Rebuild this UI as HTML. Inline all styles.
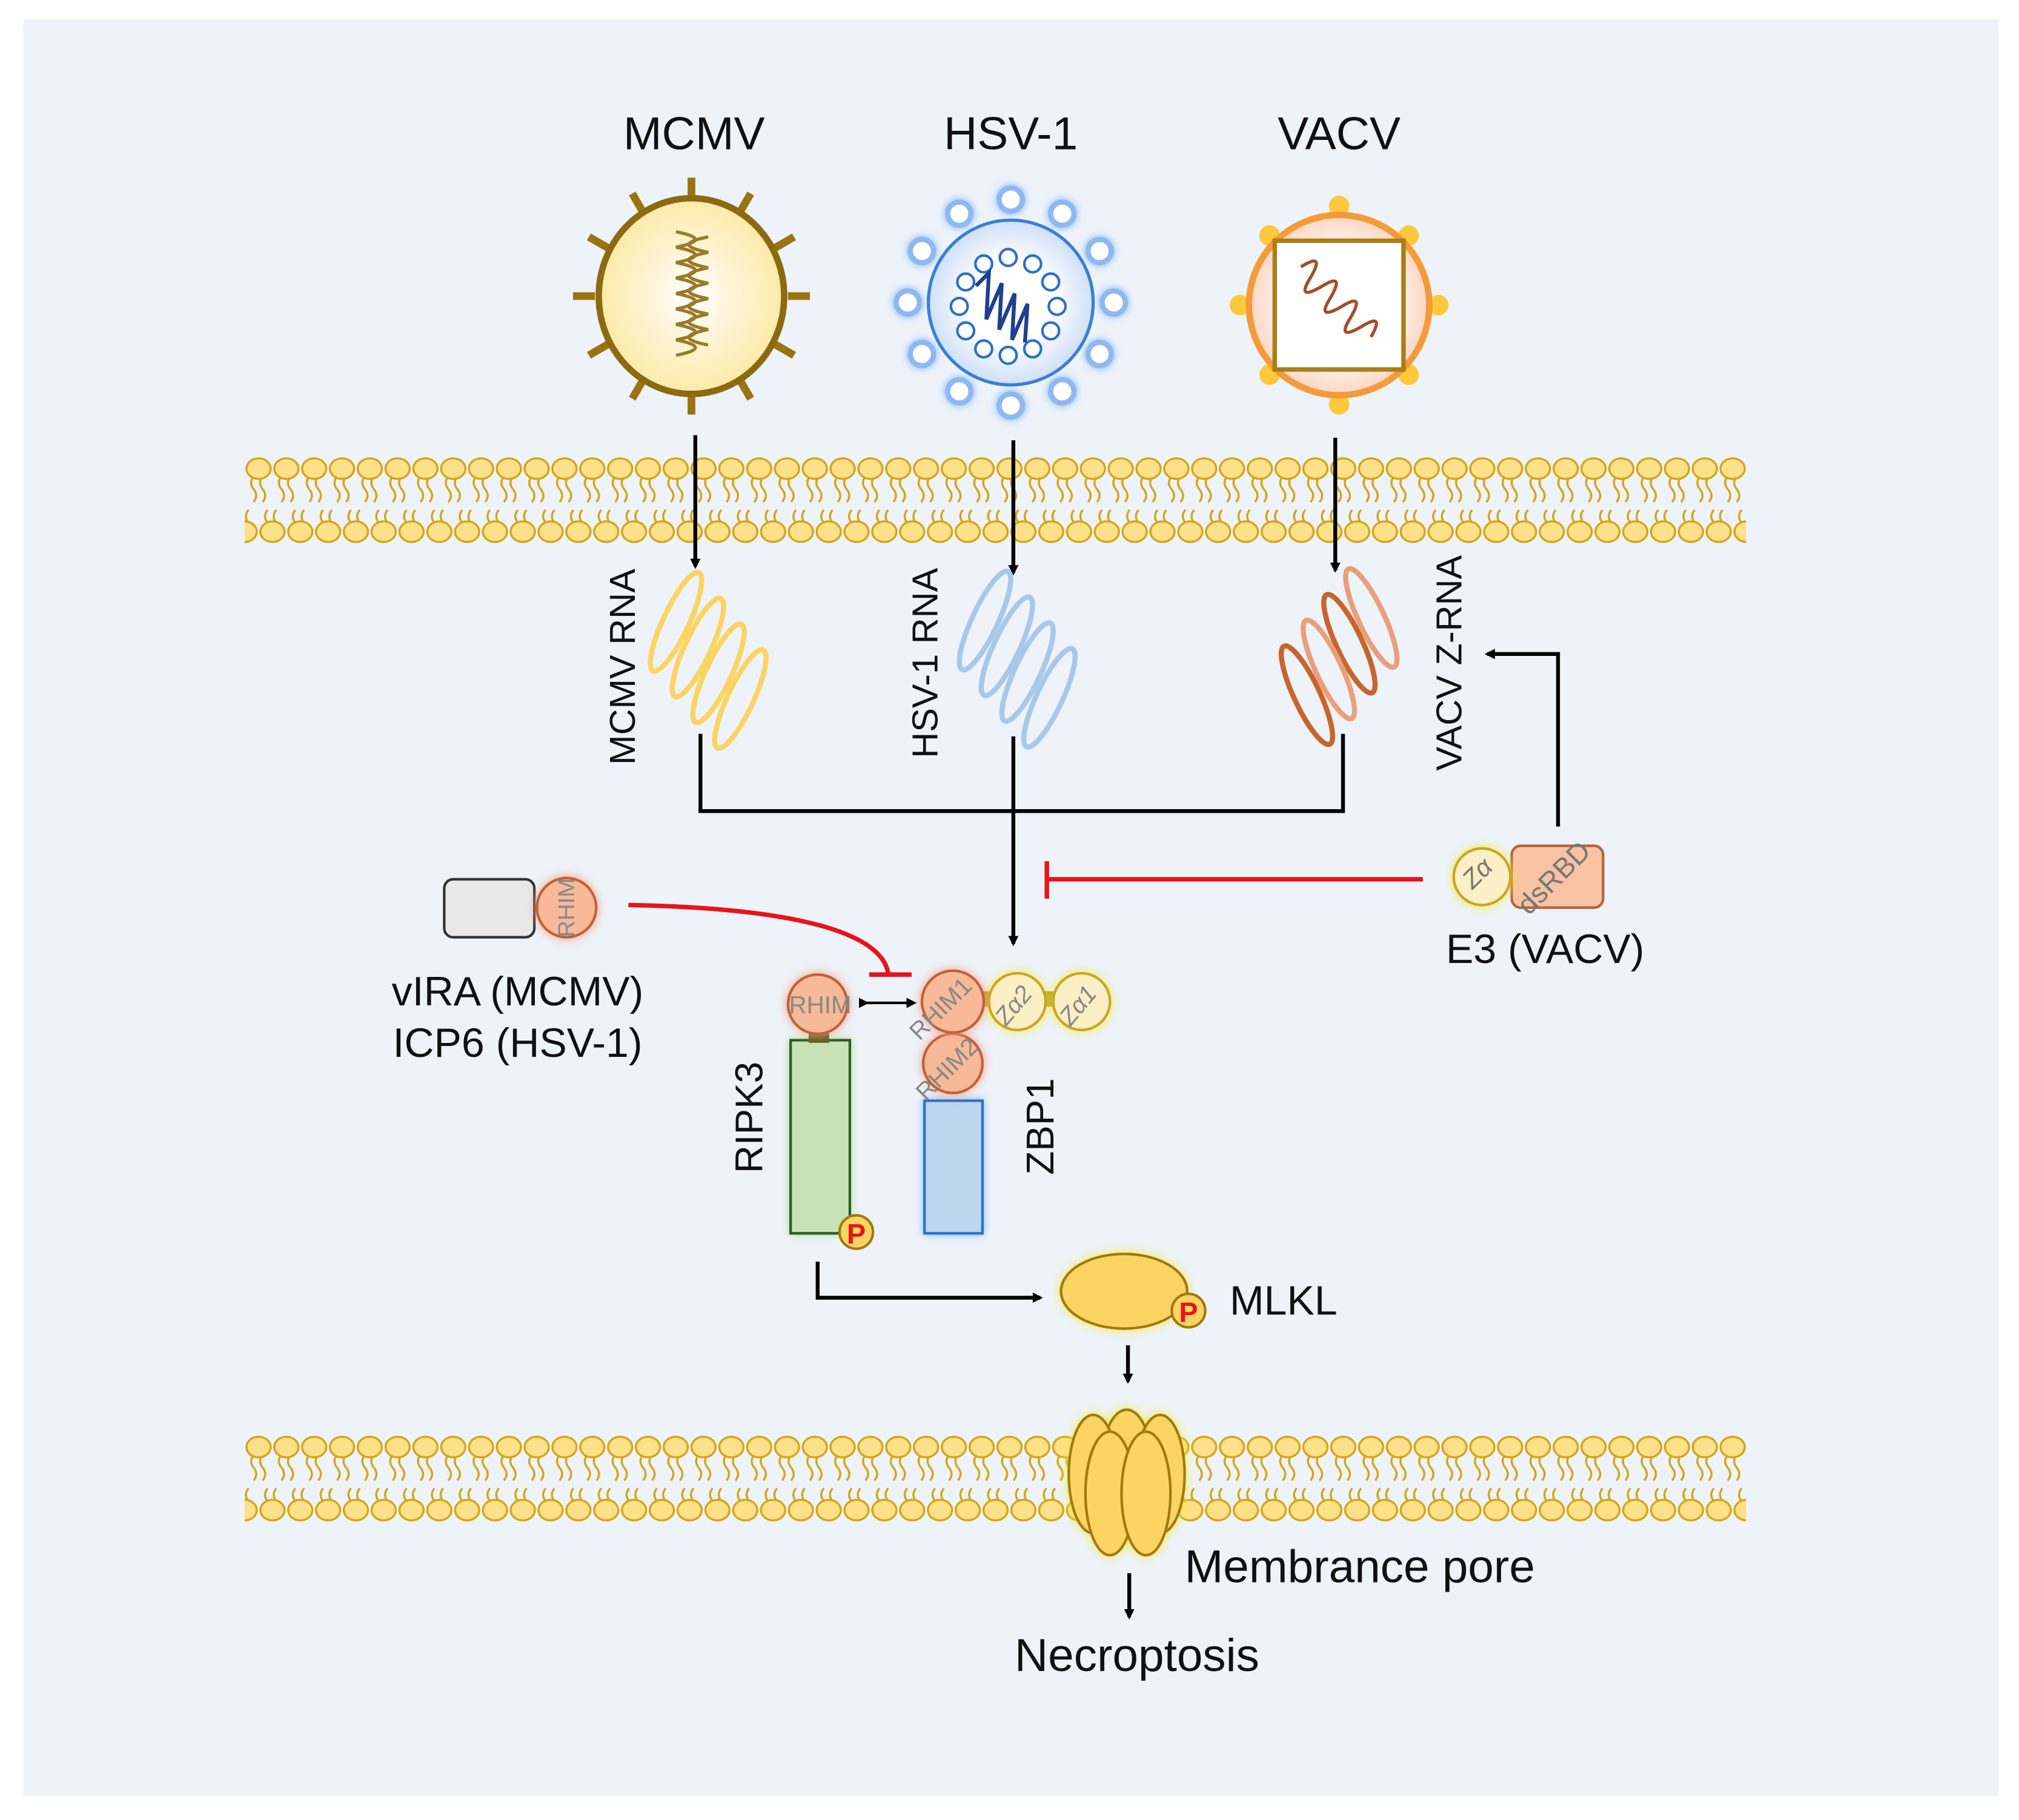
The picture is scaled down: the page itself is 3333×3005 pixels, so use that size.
<!DOCTYPE html>
<html><head><meta charset="utf-8"><style>
html,body{margin:0;padding:0;background:#fff;}
svg{display:block;}
text{font-family:"Liberation Sans",Arial,sans-serif;}
</style></head><body>
<svg width="3333" height="3005" viewBox="0 0 1568 1413.7" xmlns="http://www.w3.org/2000/svg">
<defs>
<pattern id="mem" x="190" y="352" width="21.6" height="72" patternUnits="userSpaceOnUse">
 <path d="M7,18 q-4,5 0,10 q4,5 0,10 M14,18 q-4,5 0,10 q4,5 0,10" fill="none" stroke="#d4a514" stroke-width="1.6"/>
 <path d="M-3.8,44 q-4,5 0,10 q4,5 0,10 M17.8,44 q-4,5 0,10 q4,5 0,10 M3,44 q-4,5 0,10 q4,5 0,10" fill="none" stroke="#d4a514" stroke-width="1.6"/>
 <ellipse cx="10.8" cy="12" rx="9.4" ry="8" fill="#fde08a" stroke="#d4a514" stroke-width="1.6"/>
 <ellipse cx="0" cy="61" rx="9.4" ry="8" fill="#fde08a" stroke="#d4a514" stroke-width="1.6"/>
 <ellipse cx="21.6" cy="61" rx="9.4" ry="8" fill="#fde08a" stroke="#d4a514" stroke-width="1.6"/>
</pattern>
<pattern id="mem2" x="190" y="1112" width="21.6" height="72" patternUnits="userSpaceOnUse">
 <path d="M7,18 q-4,5 0,10 q4,5 0,10 M14,18 q-4,5 0,10 q4,5 0,10" fill="none" stroke="#d4a514" stroke-width="1.6"/>
 <path d="M-3.8,44 q-4,5 0,10 q4,5 0,10 M17.8,44 q-4,5 0,10 q4,5 0,10 M3,44 q-4,5 0,10 q4,5 0,10" fill="none" stroke="#d4a514" stroke-width="1.6"/>
 <ellipse cx="10.8" cy="12" rx="9.4" ry="8" fill="#fde08a" stroke="#d4a514" stroke-width="1.6"/>
 <ellipse cx="0" cy="61" rx="9.4" ry="8" fill="#fde08a" stroke="#d4a514" stroke-width="1.6"/>
 <ellipse cx="21.6" cy="61" rx="9.4" ry="8" fill="#fde08a" stroke="#d4a514" stroke-width="1.6"/>
</pattern>
<radialGradient id="gY"><stop offset="0" stop-color="#fff"/><stop offset="1" stop-color="#fde9a8"/></radialGradient>
<radialGradient id="gB"><stop offset="0.5" stop-color="#fff"/><stop offset="1" stop-color="#cfe0f7"/></radialGradient>
<radialGradient id="gO"><stop offset="0.5" stop-color="#fff"/><stop offset="1" stop-color="#fbd6c2"/></radialGradient>
<filter id="glowY" x="-50%" y="-50%" width="200%" height="200%"><feDropShadow dx="0" dy="0" stdDeviation="4" flood-color="#f5e93a"/></filter>
<filter id="glowO" x="-50%" y="-50%" width="200%" height="200%"><feDropShadow dx="0" dy="0" stdDeviation="4" flood-color="#f4a07a"/></filter>
<filter id="glowG" x="-50%" y="-50%" width="200%" height="200%"><feDropShadow dx="0" dy="0" stdDeviation="3" flood-color="#9be07a"/></filter>
<filter id="glowBl" x="-50%" y="-50%" width="200%" height="200%"><feDropShadow dx="0" dy="0" stdDeviation="3" flood-color="#6fb0f5"/></filter>
<marker id="ah" markerWidth="8" markerHeight="8" refX="6" refY="4" orient="auto" markerUnits="userSpaceOnUse" viewBox="0 0 8 8"><path d="M0,0 L8,4 L0,8z" fill="#000"/></marker>
</defs>
<rect x="18" y="15" width="1534" height="1380" fill="#eef3fa"/>

<rect x="190" y="352" width="1166" height="72" fill="url(#mem)"/>
<rect x="190" y="1112" width="1166" height="72" fill="url(#mem2)"/>

<g font-size="36" text-anchor="middle" fill="#111">
<text x="539" y="116">MCMV</text><text x="785" y="116">HSV-1</text><text x="1040" y="116">VACV</text>
</g>

<!-- MCMV virus -->
<g stroke="#9a7410" stroke-width="6" fill="none">
<g transform="translate(537,230)">
<line x1="0" y1="-75" x2="0" y2="-92"/><line x1="0" y1="75" x2="0" y2="92"/><line x1="-75" y1="0" x2="-92" y2="0"/><line x1="75" y1="0" x2="92" y2="0"/>
<g transform="rotate(30)"><line x1="0" y1="-75" x2="0" y2="-92"/><line x1="0" y1="75" x2="0" y2="92"/><line x1="-75" y1="0" x2="-92" y2="0"/><line x1="75" y1="0" x2="92" y2="0"/></g>
<g transform="rotate(60)"><line x1="0" y1="-75" x2="0" y2="-92"/><line x1="0" y1="75" x2="0" y2="92"/><line x1="-75" y1="0" x2="-92" y2="0"/><line x1="75" y1="0" x2="92" y2="0"/></g>
</g></g>
<ellipse cx="537" cy="230" rx="72" ry="76" fill="url(#gY)" stroke="#8b6a10" stroke-width="5"/>
<path d="M525,180 q30,6 0,12 q30,6 0,12 q30,6 0,12 q30,6 0,12 q30,6 0,12 q30,6 0,12 q30,6 0,12 q30,6 0,12" fill="none" stroke="#9a7a2a" stroke-width="2.5"/>
<path d="M550,184 q-30,6 0,12 q-30,6 0,12 q-30,6 0,12 q-30,6 0,12 q-30,6 0,12 q-30,6 0,12 q-30,6 0,12" fill="none" stroke="#9a7a2a" stroke-width="2.5"/>

<!-- HSV virus -->
<g fill="#fff" stroke="#8fb8f2" stroke-width="4" filter="url(#glowBl)">
<g transform="translate(785,235)">
<circle cx="0" cy="-80" r="9"/><circle cx="0" cy="80" r="9"/><circle cx="-80" cy="0" r="9"/><circle cx="80" cy="0" r="9"/>
<circle cx="40" cy="-69" r="9"/><circle cx="-40" cy="-69" r="9"/><circle cx="40" cy="69" r="9"/><circle cx="-40" cy="69" r="9"/>
<circle cx="69" cy="-40" r="9"/><circle cx="-69" cy="-40" r="9"/><circle cx="69" cy="40" r="9"/><circle cx="-69" cy="40" r="9"/>
</g></g>
<circle cx="785" cy="235" r="64" fill="url(#gB)" stroke="#3a7fd6" stroke-width="2.5"/>
<g fill="#fff" stroke="#2f6fc6" stroke-width="2" transform="translate(783,238)">
<circle cx="0" cy="-38" r="6.5"/><circle cx="0" cy="38" r="6.5"/><circle cx="-38" cy="0" r="6.5"/><circle cx="38" cy="0" r="6.5"/>
<circle cx="19" cy="-33" r="6.5"/><circle cx="-19" cy="-33" r="6.5"/><circle cx="19" cy="33" r="6.5"/><circle cx="-19" cy="33" r="6.5"/>
<circle cx="33" cy="-19" r="6.5"/><circle cx="-33" cy="-19" r="6.5"/><circle cx="33" cy="19" r="6.5"/><circle cx="-33" cy="19" r="6.5"/>
</g>
<path d="M758,222 l10,-10 l-2,36 l12,-28 l-2,36 l12,-28 l-2,36 l12,-28 l-2,30" fill="none" stroke="#1f3f8f" stroke-width="3"/>

<!-- VACV virus -->
<g fill="#fcc93a" transform="translate(1040,237)">
<circle cx="0" cy="-77" r="8"/><circle cx="0" cy="77" r="8"/><circle cx="-77" cy="0" r="8"/><circle cx="77" cy="0" r="8"/>
<circle cx="54" cy="-54" r="8"/><circle cx="-54" cy="-54" r="8"/><circle cx="54" cy="54" r="8"/><circle cx="-54" cy="54" r="8"/>
</g>
<circle cx="1040" cy="237" r="70" fill="url(#gO)" stroke="#f59a3a" stroke-width="5"/>
<path d="M990,187 h100 v100 h-100z" fill="#fff" stroke="#a87e18" stroke-width="3.5"/>
<g transform="translate(1040,237) rotate(45)"><path d="M-42,0 q5,-22 11,0 q5,22 11,0 q5,-22 11,0 q5,22 11,0 q5,-22 11,0 q5,22 11,0 q5,-22 11,0" fill="none" stroke="#a0502a" stroke-width="2.5"/></g>

<g stroke="#000" stroke-width="3" fill="none">
<line x1="540" y1="338" x2="540" y2="440" marker-end="url(#ah)"/>
<line x1="787" y1="342" x2="787" y2="445" marker-end="url(#ah)"/>
<line x1="1037" y1="340" x2="1037" y2="443" marker-end="url(#ah)"/>
</g>

<!-- RNA helices -->
<g fill="none" stroke-width="4">
<g stroke="#fcd462" transform="translate(550,513)">
<ellipse cx="-25" cy="-30" rx="10" ry="42" transform="rotate(25 -25 -30)"/>
<ellipse cx="-8" cy="-10" rx="10" ry="42" transform="rotate(25 -8 -10)"/>
<ellipse cx="8" cy="10" rx="10" ry="42" transform="rotate(25 8 10)"/>
<ellipse cx="25" cy="30" rx="10" ry="42" transform="rotate(25 25 30)"/></g>
<g stroke="#a8c8ea" transform="translate(790,512)">
<ellipse cx="-25" cy="-30" rx="10" ry="42" transform="rotate(25 -25 -30)"/>
<ellipse cx="-8" cy="-10" rx="10" ry="42" transform="rotate(25 -8 -10)"/>
<ellipse cx="8" cy="10" rx="10" ry="42" transform="rotate(25 8 10)"/>
<ellipse cx="25" cy="30" rx="10" ry="42" transform="rotate(25 25 30)"/></g>
<g stroke="#e9a07a" transform="translate(1040,510)">
<ellipse cx="25" cy="-30" rx="10" ry="42" transform="rotate(-25 25 -30)"/>
<ellipse cx="8" cy="-10" rx="10" ry="42" transform="rotate(-25 8 -10)" stroke="#c9642a"/>
<ellipse cx="-8" cy="10" rx="10" ry="42" transform="rotate(-25 -8 10)"/>
<ellipse cx="-25" cy="30" rx="10" ry="42" transform="rotate(-25 -25 30)" stroke="#c9642a"/></g>
</g>

<g font-size="28" fill="#111" text-anchor="middle">
<text transform="translate(493,518) rotate(-90)">MCMV RNA</text>
<text transform="translate(728,515) rotate(-90)">HSV-1 RNA</text>
<text transform="translate(1135,515) rotate(-90)">VACV Z-RNA</text>
</g>

<g stroke="#000" stroke-width="3" fill="none">
<polyline points="544,570 544,630 1043,630 1043,570"/>
<line x1="787" y1="572" x2="787" y2="733" marker-end="url(#ah)"/>
<polyline points="1210,642 1210,508 1155,508" marker-end="url(#ah)"/>
<polyline points="635,980 635,1008 808,1008" marker-end="url(#ah)"/>
<line x1="876" y1="1045" x2="876" y2="1073" marker-end="url(#ah)"/>
<line x1="877" y1="1222" x2="877" y2="1256" marker-end="url(#ah)"/>
<line x1="673" y1="779" x2="710" y2="779" stroke-width="2" marker-end="url(#ah)" marker-start="url(#ah)"/>
</g>
<g stroke="#e8141a" stroke-width="3.5" fill="none">
<line x1="1105" y1="683" x2="813" y2="683"/><line x1="813" y1="669" x2="813" y2="698"/>
<path d="M488,703 C600,705 685,720 690,757"/><line x1="675" y1="757" x2="708" y2="757"/>
</g>

<rect x="1174" y="657" width="71" height="48" rx="7" fill="#f7c3a3" stroke="#b5623a" stroke-width="2"/>
<circle cx="1151" cy="681" r="22" fill="#fcefc5" stroke="#c9a520" stroke-width="2" filter="url(#glowY)"/>
<text transform="translate(1152,683) rotate(-45)" font-size="20" fill="#777" text-anchor="middle" font-style="italic">Zα</text>
<text transform="translate(1212,687) rotate(-45)" font-size="22" fill="#777" text-anchor="middle">dsRBD</text>
<text x="1200" y="748" font-size="32" text-anchor="middle" fill="#111">E3 (VACV)</text>

<rect x="345" y="683" width="70" height="45" rx="7" fill="#e8e8e8" stroke="#333" stroke-width="2"/>
<circle cx="440" cy="705" r="23" fill="#f7b998" stroke="#c0603a" stroke-width="2" filter="url(#glowO)"/>
<text transform="translate(446,705) rotate(-90)" font-size="18" fill="#888" text-anchor="middle">RHIM</text>
<g font-size="32" fill="#111" text-anchor="middle">
<text x="402" y="781">vIRA (MCMV)</text><text x="402" y="821">ICP6 (HSV-1)</text>
</g>

<rect x="614" y="808" width="46" height="150" fill="#c7e3b5" stroke="#2e5a2a" stroke-width="2" filter="url(#glowG)"/>
<rect x="628" y="798" width="16" height="12" fill="#5a5a20"/>
<circle cx="635" cy="780" r="23" fill="#f7b998" stroke="#c0603a" stroke-width="2" filter="url(#glowO)"/>
<text x="637" y="787" font-size="19" fill="#888" text-anchor="middle">RHIM</text>
<circle cx="665" cy="957" r="13" fill="#fcd462" stroke="#a07a10" stroke-width="2"/>
<text x="665" y="966" font-size="22" font-weight="bold" fill="#e8141a" text-anchor="middle">P</text>
<text transform="translate(592,868) rotate(-90)" font-size="30" fill="#111" text-anchor="middle">RIPK3</text>

<rect x="718" y="855" width="45" height="103" fill="#bcd6ee" stroke="#2f6fc6" stroke-width="2" filter="url(#glowBl)"/>
<rect x="760" y="770" width="60" height="12" fill="#9a8a20"/>
<circle cx="840" cy="778" r="22" fill="#fcefc5" stroke="#c9a520" stroke-width="2" filter="url(#glowY)"/>
<circle cx="790" cy="778" r="22" fill="#fcefc5" stroke="#c9a520" stroke-width="2" filter="url(#glowY)"/>
<circle cx="740" cy="826" r="23" fill="#f7b998" stroke="#c0603a" stroke-width="2" filter="url(#glowO)"/>
<circle cx="740" cy="778" r="24" fill="#f7b998" stroke="#c0603a" stroke-width="2" filter="url(#glowO)"/>
<g font-size="19" fill="#888" text-anchor="middle">
<text transform="translate(735,788) rotate(-45)">RHIM1</text>
<text transform="translate(740,835) rotate(-45)">RHIM2</text>
<text transform="translate(792,785) rotate(-50)" font-style="italic">Zα2</text>
<text transform="translate(842,785) rotate(-50)" font-style="italic">Zα1</text>
</g>
<text transform="translate(818,875) rotate(-90)" font-size="30" fill="#111" text-anchor="middle">ZBP1</text>

<ellipse cx="873" cy="1003" rx="49" ry="29" fill="#fcd462" stroke="#a07a10" stroke-width="2" filter="url(#glowY)"/>
<circle cx="923" cy="1018" r="13" fill="#fcd462" stroke="#a07a10" stroke-width="2"/>
<text x="923" y="1027" font-size="22" font-weight="bold" fill="#e8141a" text-anchor="middle">P</text>
<text x="955" y="1021" font-size="32" fill="#111">MLKL</text>

<g fill="#fcd462" stroke="#a07a10" stroke-width="2" filter="url(#glowY)">
<ellipse cx="875" cy="1135" rx="19" ry="40"/>
<ellipse cx="849" cy="1145" rx="19" ry="46"/><ellipse cx="901" cy="1145" rx="19" ry="46"/>
<ellipse cx="862" cy="1160" rx="19" ry="48"/><ellipse cx="890" cy="1160" rx="19" ry="48"/>
</g>
<text x="920" y="1229" font-size="36" fill="#111">Membrance pore</text>
<text x="883" y="1298" font-size="36" fill="#111" text-anchor="middle">Necroptosis</text>
</svg>
</body></html>
